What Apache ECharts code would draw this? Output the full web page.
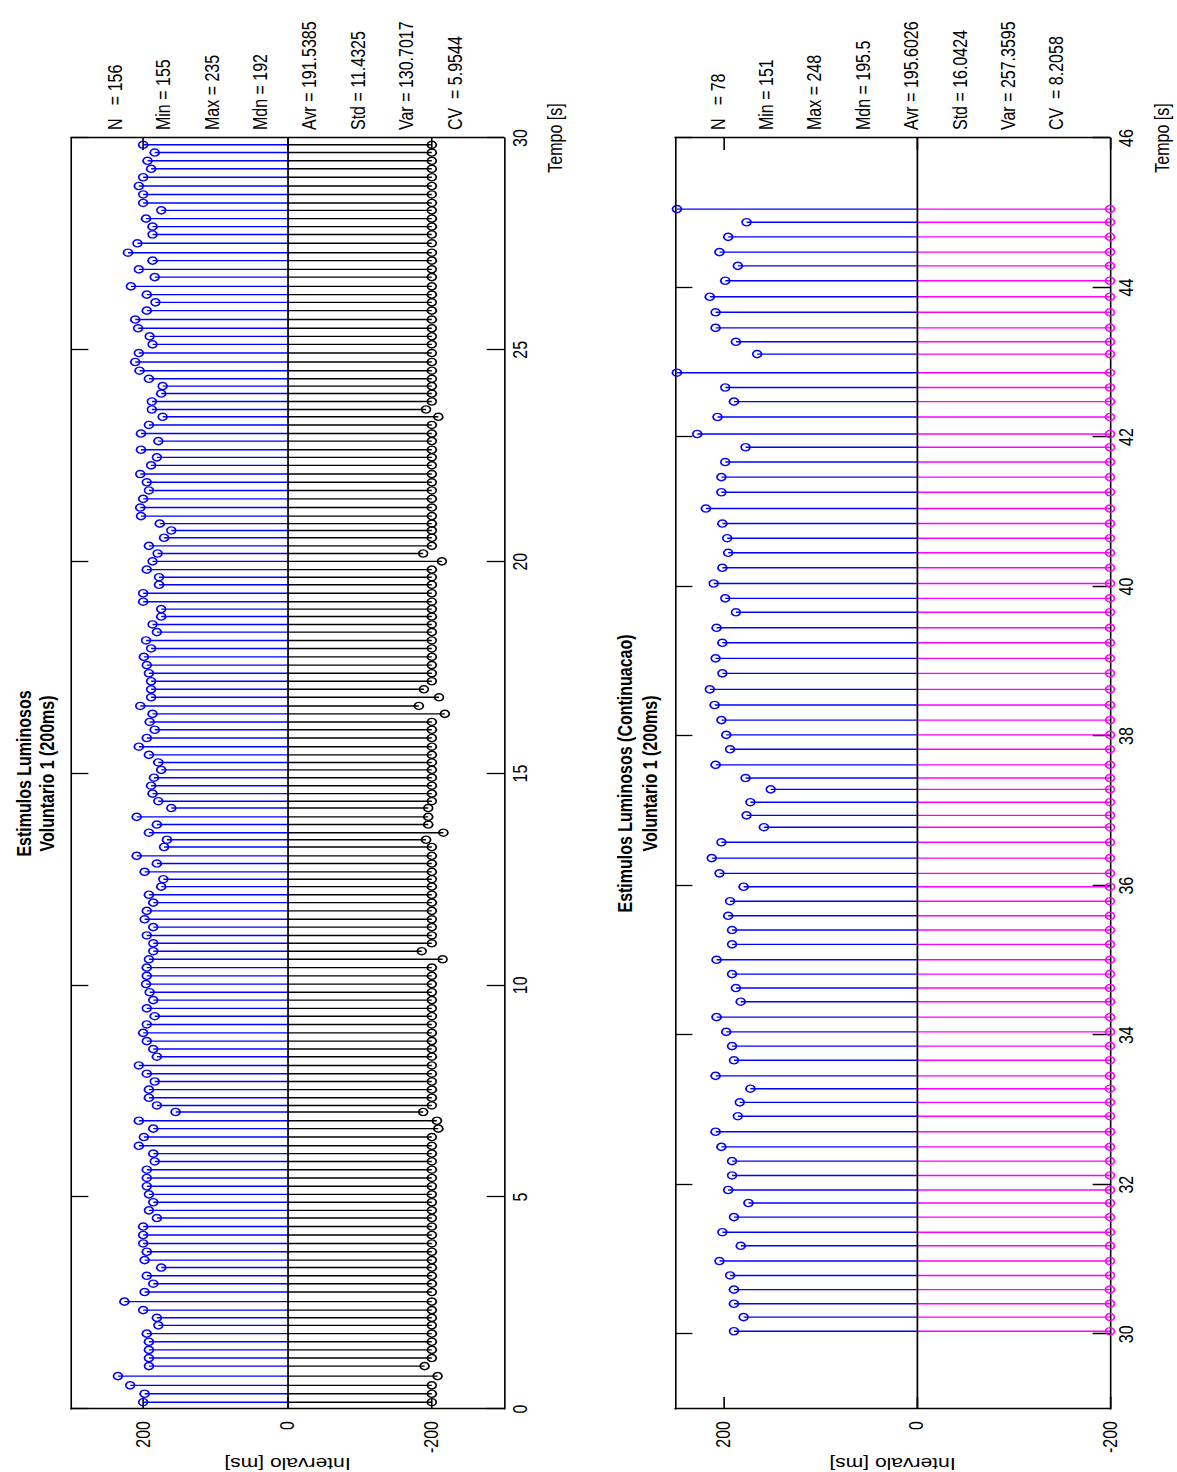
<!DOCTYPE html>
<html>
<head>
<meta charset="utf-8">
<script src="https://cdn.jsdelivr.net/npm/echarts@6/dist/echarts.min.js"></script>
<style>
  html, body { margin: 0; padding: 0; width: 1177px; height: 1472px; overflow: hidden; background: #fff; }
  /* The figure is laid out landscape, stretched vertically, then turned a quarter turn counter-clockwise */
  #chart {
    position: absolute; left: 0; top: 0;
    width: 1472px; height: 950px;
    transform-origin: 0 0;
    transform: translate(0px, 1472px) rotate(-90deg) scale(1, 1.2389);
  }
</style>
</head>
<body>
<div id="chart"></div>
<script>
// ---- Data: volunteer 1, light stimuli with a 200 ms period ----

// Part 1: response intervals [ms], in time order
const respIntervals1 = [
  200,198,218,235,192,192,192,192,195,179,
  181,200,226,198,186,195,175,198,195,200,
  200,200,181,192,186,192,195,195,195,184,
  186,206,199,186,206,155,181,192,192,184,
  195,206,181,186,195,200,195,184,195,186,
  191,196,195,195,192,186,186,195,186,198,
  195,186,192,175,172,198,181,209,171,167,
  192,181,209,161,179,187,189,185,175,179,
  192,206,195,184,191,187,204,189,189,189,
  192,195,199,189,196,181,187,175,175,200,
  200,178,178,195,187,180,192,171,161,177,
  203,204,200,192,195,204,189,181,203,179,
  203,192,173,188,188,175,173,192,205,211,
  206,187,191,207,211,195,183,195,217,184,
  206,187,221,208,187,187,196,175,200,200,
  206,200,189,194,184,200
];

// Part 1: stimulus intervals [ms], drawn on the negative side
const stimIntervals1 = [
  -200,-200,-200,-208,-190,-200,-200,-200,-200,-200,
  -200,-200,-200,-200,-200,-200,-200,-200,-200,-200,
  -200,-200,-200,-200,-200,-200,-200,-200,-200,-200,
  -200,-200,-200,-209,-207,-188,-200,-200,-200,-200,
  -200,-200,-200,-200,-200,-200,-200,-200,-200,-200,
  -200,-200,-200,-200,-215,-186,-200,-200,-200,-200,
  -200,-200,-200,-200,-200,-200,-200,-200,-200,-192,
  -216,-195,-195,-195,-200,-200,-200,-200,-200,-200,
  -200,-200,-200,-200,-200,-218,-182,-210,-189,-200,
  -200,-200,-200,-200,-200,-200,-200,-200,-200,-200,
  -200,-200,-200,-200,-214,-188,-200,-200,-200,-200,
  -200,-200,-200,-200,-200,-200,-200,-200,-200,-200,
  -200,-200,-209,-192,-200,-200,-200,-200,-200,-200,
  -200,-200,-200,-200,-200,-200,-200,-200,-200,-200,
  -200,-200,-200,-200,-200,-200,-200,-200,-200,-200,
  -200,-200,-200,-200,-200,-200
];

// Part 2 (continuation): response intervals [ms]
const respIntervals2 = [
  189,179,189,189,193,204,182,201,189,174,
  195,191,191,202,208,185,183,172,208,189,
  191,197,207,182,187,191,207,191,191,195,
  193,179,204,212,202,158,176,172,151,177,
  208,193,197,202,209,214,201,208,201,207,
  187,198,210,201,195,196,201,218,202,202,
  198,177,227,206,189,198,248,165,187,208,
  208,214,198,185,204,195,176,248
];

// Part 2: stimulus intervals [ms], negative side
const stimIntervals2 = [
  -200,-200,-200,-200,-200,-200,-200,-200,-200,-200,
  -200,-200,-200,-200,-200,-200,-200,-200,-200,-200,
  -200,-200,-200,-200,-200,-200,-200,-200,-200,-200,
  -200,-200,-200,-200,-200,-200,-200,-200,-200,-200,
  -200,-200,-200,-200,-200,-200,-200,-200,-200,-200,
  -200,-200,-200,-200,-200,-200,-200,-200,-200,-200,
  -200,-200,-200,-200,-200,-200,-200,-200,-200,-200,
  -200,-200,-200,-200,-200,-200,-200,-200
];

const firstResponseTime = 0.16; // s

const titles1 = ['Estimulos Luminosos', 'Voluntario 1 (200ms)'];
const titles2 = ['Estimulos Luminosos (Continuacao)', 'Voluntario 1 (200ms)'];

const stats1 = ['N   = 156', 'Min = 155', 'Max = 235', 'Mdn = 192',
                'Avr = 191.5385', 'Std = 11.4325', 'Var = 130.7017', 'CV  = 5.9544'];
const stats2 = ['N   = 78', 'Min = 151', 'Max = 248', 'Mdn = 195.5',
                'Avr = 195.6026', 'Std = 16.0424', 'Var = 257.3595', 'CV  = 8.2058'];

const timeTicks1 = [0, 5, 10, 15, 20, 25, 30];
const timeTicks2 = [30, 32, 34, 36, 38, 40, 42, 44, 46];
const valueTicks = [-200, 0, 200];

const xLabel = 'Tempo [s]';
const yLabel = 'Intervalo [ms]';

// ---- Build stem data: each interval is placed at its onset time ----
function onsets(intervals, start) {
  const times = [];
  let acc = start;
  for (const v of intervals) { times.push(acc); acc += v / 1000; }
  return { times, end: acc };
}
const part1 = onsets(respIntervals1, firstResponseTime);
const part2 = onsets(respIntervals2, part1.end);

const resp1 = part1.times.map((t, i) => [t, respIntervals1[i]]);
const stim1 = part1.times.map((t, i) => [t, stimIntervals1[i]]);
const resp2 = part2.times.map((t, i) => [t, respIntervals2[i]]);
const stim2 = part2.times.map((t, i) => [t, stimIntervals2[i]]);

// ---- Layout (unstretched frame) ----
const SY = 1.2389;
const GL = 63, GW = 1271;
const grid1 = { top: 71 / SY, height: 433 / SY };
const grid2 = { top: 675 / SY, height: 435 / SY };
const FONT = '"Liberation Sans", Arial, Helvetica, sans-serif';

function timeAxis(gi, min, max, ticks, pos) {
  const main = pos === 'bottom';
  return {
    type: 'value', gridIndex: gi, position: pos, min: min, max: max,
    axisLine: { show: true, onZero: false, lineStyle: { color: '#000', width: 1.3 } },
    axisTick: { show: true, inside: true, length: 14, customValues: ticks,
                lineStyle: { color: '#000', width: 1.3 } },
    axisLabel: { show: main, customValues: ticks, margin: 5, color: '#000',
                 fontSize: 16, fontFamily: FONT },
    splitLine: { show: false }
  };
}
function valueAxis(gi, min, max, pos) {
  const main = pos === 'left';
  return {
    type: 'value', gridIndex: gi, position: pos, min: min, max: max,
    name: main ? yLabel : '', nameLocation: 'middle', nameGap: 46, nameRotate: 90,
    nameMoveOverlap: false,
    nameTextStyle: { color: '#000', fontSize: 17, fontFamily: FONT },
    axisLine: { show: true, onZero: false, lineStyle: { color: '#000', width: 1.3 } },
    axisTick: { show: true, inside: true, length: 12, customValues: valueTicks,
                lineStyle: { color: '#000', width: 1.3 } },
    axisLabel: { show: main, customValues: valueTicks, margin: 12, color: '#000',
                 fontSize: 16, fontFamily: FONT },
    splitLine: { show: false }
  };
}

function stemSeries(data, color, xi, yi, withBaseline) {
  const s = {
    type: 'custom', xAxisIndex: xi, yAxisIndex: yi, clip: false,
    silent: true, animation: false, data: data, encode: { x: 0, y: 1 },
    renderItem: function (params, api) {
      const t = api.value(0), v = api.value(1);
      const p0 = api.coord([t, 0]);
      const p1 = api.coord([t, v]);
      return {
        type: 'group',
        children: [
          { type: 'line', shape: { x1: p0[0], y1: p0[1], x2: p1[0], y2: p1[1] },
            style: { stroke: color, lineWidth: 1.4 } },
          { type: 'circle', shape: { cx: p1[0], cy: p1[1], r: 3.6 },
            style: { fill: 'none', stroke: color, lineWidth: 1.4 } }
        ]
      };
    }
  };
  if (withBaseline) {
    s.markLine = {
      silent: true, animation: false, symbol: ['none', 'none'],
      label: { show: false },
      lineStyle: { color: '#000', width: 1.4, type: 'solid' },
      data: [{ yAxis: 0 }]
    };
  }
  return s;
}

// ---- Text blocks ----
const graphics = [];
function addText(text, x, y, opts) {
  graphics.push({
    type: 'text', x: x, y: y, silent: true,
    style: Object.assign({
      text: text, fill: '#000', fontSize: 16, fontFamily: FONT,
      align: 'left', verticalAlign: 'middle'
    }, opts || {})
  });
}
const cx = GL + GW / 2;
addText(titles1[0], cx, 24 / SY, { align: 'center', fontWeight: 'bold' });
addText(titles1[1], cx, 47 / SY, { align: 'center', fontWeight: 'bold' });
addText(titles2[0], cx, 625 / SY, { align: 'center', fontWeight: 'bold' });
addText(titles2[1], cx, 650 / SY, { align: 'center', fontWeight: 'bold' });
stats1.forEach((s, k) => addText(s, 1342, (115 + 48.6 * k) / SY));
stats2.forEach((s, k) => addText(s, 1342, (718 + 48.4 * k) / SY));
addText(xLabel, GL + GW, 555 / SY, { align: 'center' });
addText(xLabel, GL + GW, 1162 / SY, { align: 'center' });

const option = {
  animation: false,
  backgroundColor: '#fff',
  grid: [
    { left: GL, width: GW, top: grid1.top, height: grid1.height,
      containLabel: false, outerBoundsMode: 'none' },
    { left: GL, width: GW, top: grid2.top, height: grid2.height,
      containLabel: false, outerBoundsMode: 'none' }
  ],
  xAxis: [
    timeAxis(0, 0, 30, timeTicks1, 'bottom'),
    timeAxis(0, 0, 30, timeTicks1, 'top'),
    timeAxis(1, 29, 46, timeTicks2, 'bottom'),
    timeAxis(1, 29, 46, timeTicks2, 'top')
  ],
  yAxis: [
    valueAxis(0, -300, 300, 'left'),
    valueAxis(0, -300, 300, 'right'),
    valueAxis(1, -200, 250, 'left'),
    valueAxis(1, -200, 250, 'right')
  ],
  series: [
    stemSeries(resp1, '#0000ff', 0, 0, true),
    stemSeries(stim1, '#000000', 0, 0, false),
    stemSeries(resp2, '#0000ff', 2, 2, true),
    stemSeries(stim2, '#ff00ff', 2, 2, false)
  ],
  graphic: graphics
};

const chart = echarts.init(document.getElementById('chart'), null, { renderer: 'svg' });
chart.setOption(option);
</script>
</body>
</html>
